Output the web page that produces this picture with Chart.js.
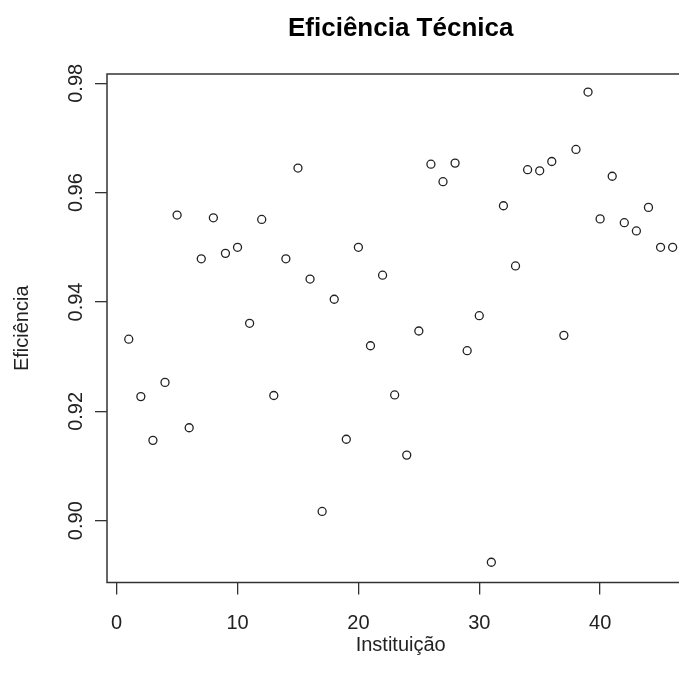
<!DOCTYPE html>
<html><head><meta charset="utf-8">
<script src="https://cdn.jsdelivr.net/npm/chart.js@4.4.1/dist/chart.umd.min.js"></script>
<style>
html,body{margin:0;padding:0;background:#fff;overflow:hidden;width:679px;height:686px}
#wrap{width:679px;height:686px;overflow:hidden;position:relative}
canvas{display:block}
</style></head><body>
<div id="wrap"><canvas id="c" width="800" height="686" style="width:800px;height:686px"></canvas></div>
<script>
const instituicao = [1,2,3,4,5,6,7,8,9,10,11,12,13,14,15,16,17,18,19,20,21,22,23,24,25,26,27,28,29,30,31,32,33,34,35,36,37,38,39,40,41,42,43,44,45,46];
const eficiencia = [0.9332,0.9227,0.9147,0.9253,0.9559,0.9170,0.9479,0.9554,0.9489,0.9500,
                    0.9361,0.9551,0.9229,0.9479,0.9645,0.9442,0.9017,0.9405,0.9149,0.9500,
                    0.9320,0.9449,0.9230,0.9120,0.9347,0.9652,0.9620,0.9654,0.9311,0.9375,
                    0.8924,0.9576,0.9466,0.9642,0.9640,0.9657,0.9339,0.9679,0.9784,0.9552,
                    0.9630,0.9545,0.9530,0.9573,0.9500,0.9500];
const xTicks = [0,10,20,30,40];
const yTicks = [0.90,0.92,0.94,0.96,0.98];
const titleText = 'Eficiência Técnica';
const xLabel = 'Instituição';
const yLabel = 'Eficiência';

const FONT = '"Liberation Sans", Arial, sans-serif';

const boxPlugin = {
  id: 'box',
  afterDraw(chart) {
    const a = chart.chartArea, ctx = chart.ctx;
    ctx.save();
    ctx.strokeStyle = '#333';
    ctx.lineWidth = 1.5;
    ctx.strokeRect(a.left, a.top, a.right - a.left, a.bottom - a.top);
    ctx.restore();
  }
};

const points = instituicao.map((x, i) => ({x: x, y: eficiencia[i]}));

new Chart(document.getElementById('c'), {
  type: 'scatter',
  data: { datasets: [{
    data: points,
    pointStyle: 'circle',
    pointRadius: 4,
    pointBorderWidth: 1.3,
    pointBorderColor: '#222',
    pointBackgroundColor: 'rgba(0,0,0,0)',
    pointHoverRadius: 4
  }]},
  options: {
    responsive: false,
    animation: false,
    devicePixelRatio: 1,
    layout: { padding: { left: 0, right: 105.6, top: 0, bottom: 0 } },
    plugins: {
      legend: { display: false },
      tooltip: { enabled: false },
      title: {
        display: true, text: titleText, fullSize: false, color: '#000',
        font: { family: FONT, size: 26, weight: 'bold', lineHeight: 1.2 },
        padding: { top: 13, bottom: 29.8 }
      }
    },
    scales: {
      x: {
        type: 'linear', min: -0.8, max: 47.8,
        afterFit(s) { s.height = 103.5; },
        afterBuildTicks(s) { s.ticks = xTicks.map(v => ({value: v})); },
        border: { display: false },
        grid: { display: true, drawOnChartArea: false, drawTicks: true, tickLength: 12, color: '#333', lineWidth: 1.3 },
        ticks: { color: '#222', font: { family: FONT, size: 20 }, padding: 17, maxRotation: 0, callback: v => String(v) },
        title: { display: true, text: xLabel, color: '#222', font: { family: FONT, size: 20 }, padding: { top: 0, bottom: 29 } }
      },
      y: {
        type: 'linear', min: 0.8887, max: 0.9817,
        afterFit(s) { s.width = 107; },
        afterBuildTicks(s) { s.ticks = yTicks.map(v => ({value: v})); },
        border: { display: false },
        grid: { display: true, drawOnChartArea: false, drawTicks: true, tickLength: 12, color: '#333', lineWidth: 1.3 },
        ticks: { color: '#222', font: { family: FONT, size: 20 }, padding: -1, minRotation: 90, maxRotation: 90, crossAlign: 'center', callback: v => Number(v).toFixed(2) },
        title: { display: true, text: yLabel, color: '#222', font: { family: FONT, size: 20 }, padding: { top: 10, bottom: 0 } }
      }
    }
  },
  plugins: [boxPlugin]
});
</script>
</body></html>
